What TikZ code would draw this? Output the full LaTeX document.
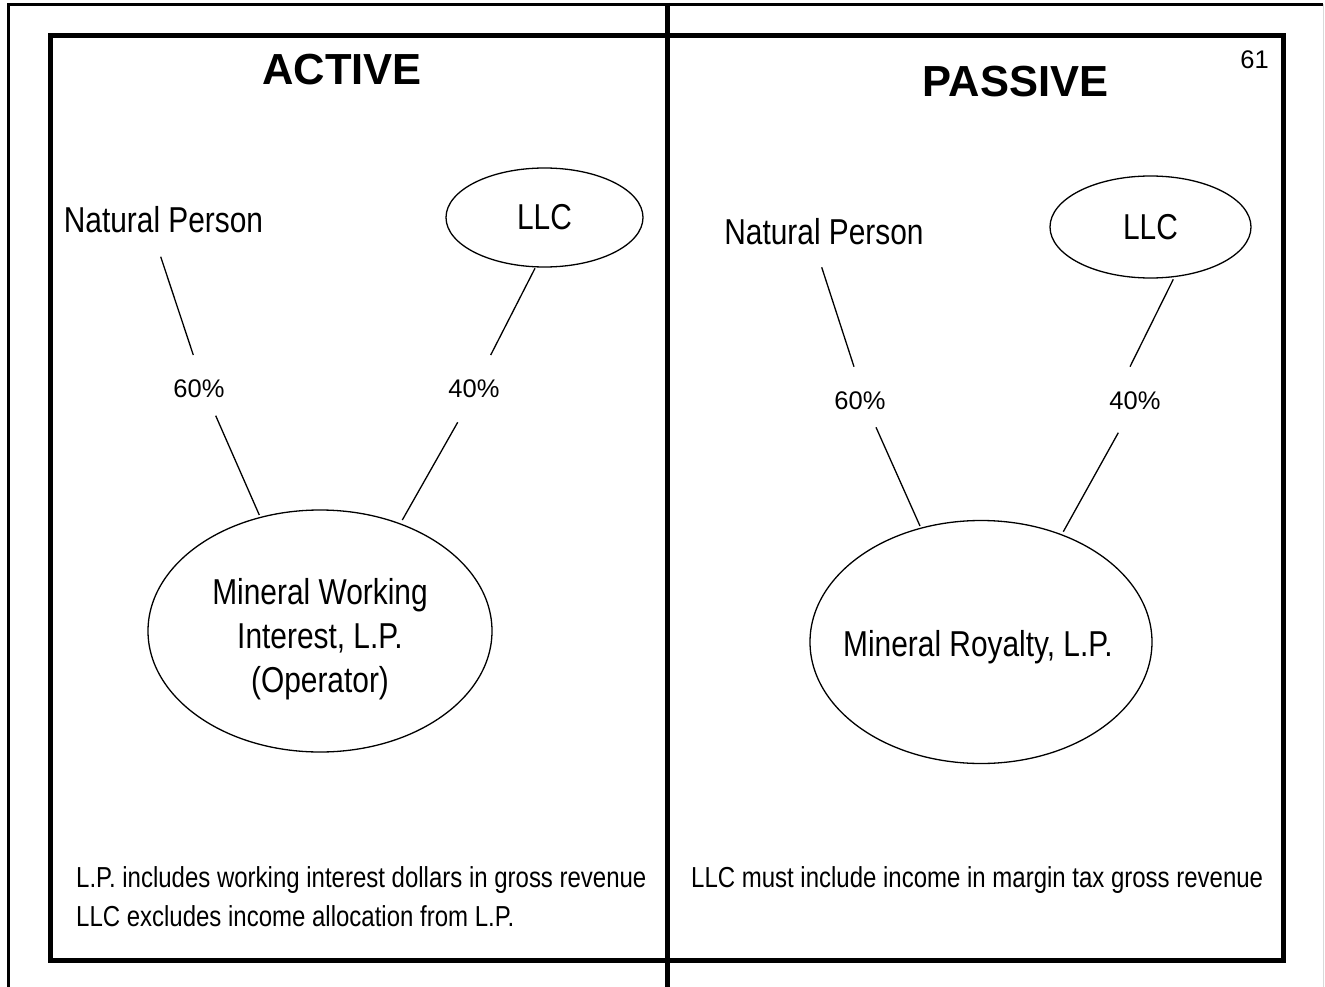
\documentclass[tikz,border=0pt]{standalone}
\usepackage{fontspec}
\setmainfont{Liberation Sans}
\newfontfamily\narrowsans[FakeStretch=0.83]{Liberation Sans}
\usetikzlibrary{shapes.geometric}
\begin{document}
\begin{tikzpicture}[x=1pt,y=-1pt,
  heavy/.style={line width=5pt},
  oval/.style={ellipse,draw,line width=1.3pt,inner sep=0pt},
  link/.style={line width=1.3pt},
  heading/.style={inner sep=0pt,font=\fontsize{43.5}{50}\selectfont\bfseries},
  entity/.style={inner sep=0pt,font=\narrowsans\fontsize{36}{44}\selectfont},
  share/.style={inner sep=0pt,font=\fontsize{25.5}{28}\selectfont},
  note/.style={inner sep=0pt,anchor=base west,font=\narrowsans\fontsize{28.9}{38}\selectfont},
]
\useasboundingbox (0,0) rectangle (1325,987);

% page edges
\draw[line width=2.5pt] (8.5,987) -- (8.5,4.5) -- (1323,4.5);
\draw[line width=1.5pt,black!15] (1323.5,4.5) -- (1323.5,987);

% the two panels
\draw[heavy] (667.5,3) -- (667.5,987);
\draw[heavy,line join=miter] (50.5,36) rectangle (1283,960.5);

% headings
\node[heading] (tA) at (342,70) {ACTIVE};
\node[heading] (tP) at (1015.5,82) {PASSIVE};
\node[share] (pg) at (1254.5,59.5) {61};

% ---- active side ----
\node[entity] (npL) at (163.5,220) {Natural Person};
\node[oval,entity,minimum width=197pt,minimum height=99pt] (llcL) at (544.5,217.5) {LLC};
\node[oval,minimum width=344pt,minimum height=242pt] (mwiL) at (320,631) {};
\node[entity,align=center] (mwiLtext) at (320,639) {Mineral Working\\Interest, L.P.\\(Operator)};
\node[share] (p60L) at (199,389) {60\%};
\node[share] (p40L) at (474,389) {40\%};

\draw[link] ([shift={(-2.8,36.7)}]npL.center) -- ([shift={(-5.7,-34)}]p60L.center);
\draw[link] ([shift={(16.7,26.7)}]p60L.center) -- ([shift={(-60.7,-116)}]mwiL.center);
\draw[link] ([shift={(-9.5,50.8)}]llcL.center) -- ([shift={(16.7,-34)}]p40L.center);
\draw[link] ([shift={(-16.3,33.3)}]p40L.center) -- ([shift={(82.3,-111)}]mwiL.center);

% ---- passive side ----
\node[entity] (npR) at (824,232) {Natural Person};
\node[oval,entity,minimum width=201pt,minimum height=102pt] (llcR) at (1150.5,227) {LLC};
\node[oval,minimum width=342pt,minimum height=243pt] (mwiR) at (981,642) {};
\node[entity,text depth=0pt] (mwiRtext) at (978,643) {Mineral Royalty, L.P.};
\node[share] (p60R) at (860,401) {60\%};
\node[share] (p40R) at (1135,401) {40\%};

\draw[link] ([shift={(-2.3,35.3)}]npR.center) -- ([shift={(-6,-34.3)}]p60R.center);
\draw[link] ([shift={(16,26.3)}]p60R.center) -- ([shift={(-61,-116)}]mwiR.center);
\draw[link] ([shift={(22.8,52.3)}]llcR.center) -- ([shift={(-5,-34.3)}]p40R.center);
\draw[link] ([shift={(-16.7,31.7)}]p40R.center) -- ([shift={(82.3,-110.3)}]mwiR.center);

% notes
\node[note] (nL1) at (76,887) {L.P. includes working interest dollars in gross revenue};
\node[note] (nL2) at (76,926) {LLC excludes income allocation from L.P.};
\node[note] (nR) at (691,887) {LLC must include income in margin tax gross revenue};
\end{tikzpicture}
\end{document}
